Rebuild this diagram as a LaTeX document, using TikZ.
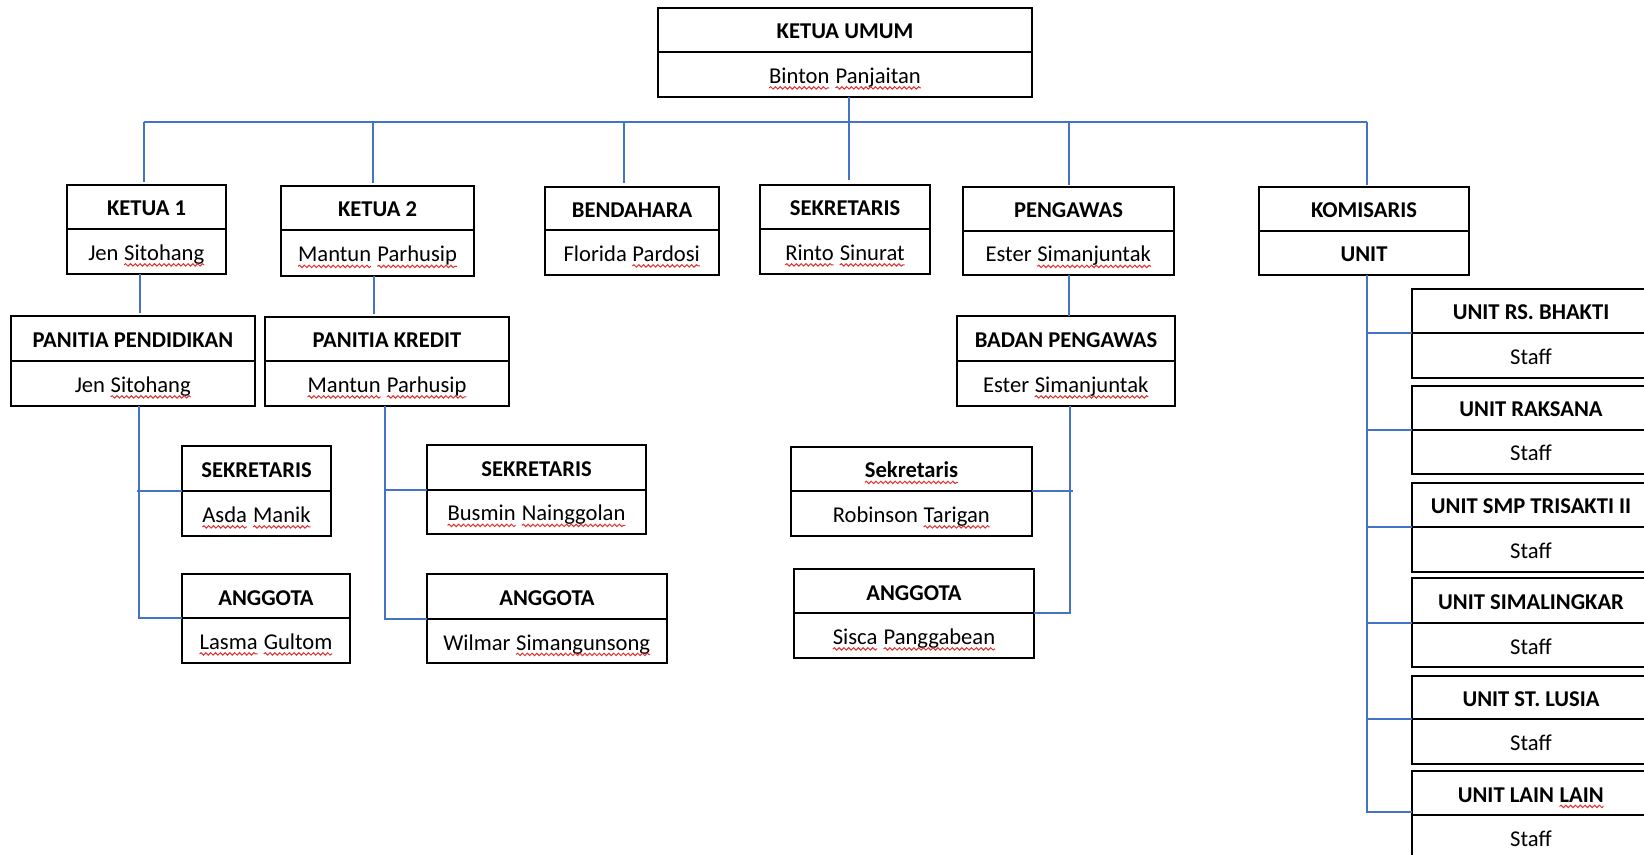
\documentclass[tikz,border=0pt]{standalone}
\usepackage{fontspec}
\setmainfont{Carlito}
\usetikzlibrary{calc,decorations.pathmorphing}
\definecolor{lineblue}{HTML}{4472C4}
\definecolor{sqred}{HTML}{E03030}
\newcommand\sq[1]{\tikz[baseline=(w.base)]{\node[draw=none,fill=none,rectangle,minimum width=0pt,minimum height=0pt,inner sep=0pt,outer sep=0pt,anchor=base,text height={},text depth={}] (w) {#1};\draw[sqred,line width=0.5pt,decorate,decoration={snake,amplitude=0.6pt,segment length=2.4pt}] ([yshift=-2.2pt]w.base west) -- ([yshift=-2.2pt]w.base east);}}
\tikzset{
  orgpart/.style={draw=black, line width=1.25pt, rectangle, inner sep=0pt, outer sep=0pt,
    anchor=north west, text height=11pt, text depth=2pt, font=\fontsize{11.3}{13}\selectfont},
  ttl/.style={orgpart, font=\fontsize{11.3}{13}\selectfont\bfseries},
  conn/.style={draw=lineblue, line width=1pt},
}
\newcommand\obox[8]{%
  \node[ttl, minimum width={(#4-#2)*0.5pt}, minimum height={(#5-#3)*0.5pt}] (#1) at (#2,#3) {#7};
  \node[orgpart, minimum width={(#4-#2)*0.5pt}, minimum height={(#6-#5)*0.5pt}] (#1n) at (#2,#5) {#8};
}
\begin{document}
\begin{tikzpicture}[x=0.5pt,y=-0.5pt]
\fill[white] (0,0) rectangle (1644,855);
\useasboundingbox (0,0) rectangle (1644,855);
\clip (0,0) rectangle (1644,855);

% boxes
\obox{ku}{658}{8}{1032}{52}{97}{KETUA UMUM}{\sq{Binton} \sq{Panjaitan}}
\obox{k1}{67}{185}{226}{229}{274}{KETUA 1}{Jen \sq{Sitohang}}
\obox{k2}{281}{186}{474}{230}{276}{KETUA 2}{\sq{Mantun} \sq{Parhusip}}
\obox{bend}{545}{187}{719}{230}{275}{BENDAHARA}{Florida \sq{Pardosi}}
\obox{sek}{760}{185}{930}{229}{274}{SEKRETARIS}{\sq{Rinto} \sq{Sinurat}}
\obox{peng}{963}{187}{1174}{231}{275}{PENGAWAS}{Ester \sq{Simanjuntak}}
\obox{kom}{1259}{187}{1469}{231}{275}{KOMISARIS}{\textbf{UNIT}}
\obox{pp}{11}{316}{255}{361}{406}{PANITIA PENDIDIKAN}{Jen \sq{Sitohang}}
\obox{pk}{265}{317}{509}{361}{406}{PANITIA KREDIT}{\sq{Mantun} \sq{Parhusip}}
\obox{bp}{957}{316}{1175}{361}{406}{BADAN PENGAWAS}{Ester \sq{Simanjuntak}}
\obox{sekA}{182}{446}{331}{491}{536}{SEKRETARIS}{\sq{Asda} \sq{Manik}}
\obox{angA}{182}{574}{350}{618}{663}{ANGGOTA}{\sq{Lasma} \sq{Gultom}}
\obox{sekB}{427}{445}{646}{490}{534}{SEKRETARIS}{\sq{Busmin} \sq{Nainggolan}}
\obox{angB}{427}{574}{667}{619}{663}{ANGGOTA}{Wilmar \sq{Simangunsong}}
\obox{sekC}{791}{447}{1032}{491}{536}{\sq{Sekretaris}}{Robinson \sq{Tarigan}}
\obox{angC}{794}{569}{1034}{613}{658}{ANGGOTA}{\sq{Sisca} \sq{Panggabean}}
\obox{uA}{1412}{289}{1650}{333}{378}{UNIT RS. BHAKTI}{Staff}
\obox{uB}{1412}{386}{1650}{430}{474}{UNIT RAKSANA}{Staff}
\obox{uC}{1412}{483}{1650}{527}{572}{UNIT SMP TRISAKTI II}{Staff}
\obox{uD}{1412}{578}{1650}{623}{667}{UNIT SIMALINGKAR}{Staff}
\obox{uE}{1412}{676}{1650}{719}{764}{UNIT ST. LUSIA}{Staff}
\obox{uF}{1412}{771}{1650}{815}{860}{UNIT LAIN \sq{LAIN}}{Staff}

% connectors
\coordinate (bar) at (849,122);
\draw[conn] (bar |- kun.south) -- (bar);
\draw[conn] ($(bar -| k1.north)+(-3,0)$) -- ($(bar -| kom.north)+(3,0)$);
\draw[conn] ($(bar -| k1.north)+(-3,0)$) -- ($(k1.north)+(-3,-3)$);
\draw[conn] ($(bar -| k2.north)+(-5,0)$) -- ($(k2.north)+(-5,-3)$);
\draw[conn] ($(bar -| bend.north)+(-8,0)$) -- ($(bend.north)+(-8,-4)$);
\draw[conn] (bar) -- ($(bar |- sek.north)+(0,-5)$);
\draw[conn] (bar -| peng.north) -- ($(peng.north)+(0,-2)$);
\draw[conn] ($(bar -| kom.north)+(3,0)$) -- ($(kom.north)+(3,-2)$);

\coordinate (k1d) at ($(k1n.south)+(-7,0)$);
\draw[conn] (k1d) -- ($(k1d |- pp.north)+(0,-3)$);
\coordinate (k2d) at ($(k2n.south)+(-4,0)$);
\draw[conn] (k2d) -- ($(k2d |- pk.north)+(0,-3)$);
\draw[conn] (pengn.south) -- (pengn.south |- bp.north);

\coordinate (ppd) at ($(ppn.south)+(6,0)$);
\draw[conn] (ppd) |- (angAn.north west);
\draw[conn] (sekAn.north west) -- ($(sekAn.north west -| ppd)+(-2,0)$);

\coordinate (pkd) at ($(pkn.south)+(-2,0)$);
\draw[conn] (pkd) |- (angBn.north west);
\draw[conn] (sekBn.north west) -- (sekBn.north west -| pkd);

\coordinate (bpd) at ($(bpn.south)+(4,0)$);
\draw[conn] (bpd) |- (angCn.north east);
\draw[conn] (sekCn.north east) -- ($(sekCn.north east -| bpd)+(3,0)$);

\coordinate (komd) at ($(komn.south)+(3,0)$);
\draw[conn] (komd) |- ($(uFn.north west)+(0,-3)$);
\foreach \u in {uA,uB,uC,uD,uE}
  \draw[conn] (\u n.north west) -- (\u n.north west -| komd);
\end{tikzpicture}
\end{document}
